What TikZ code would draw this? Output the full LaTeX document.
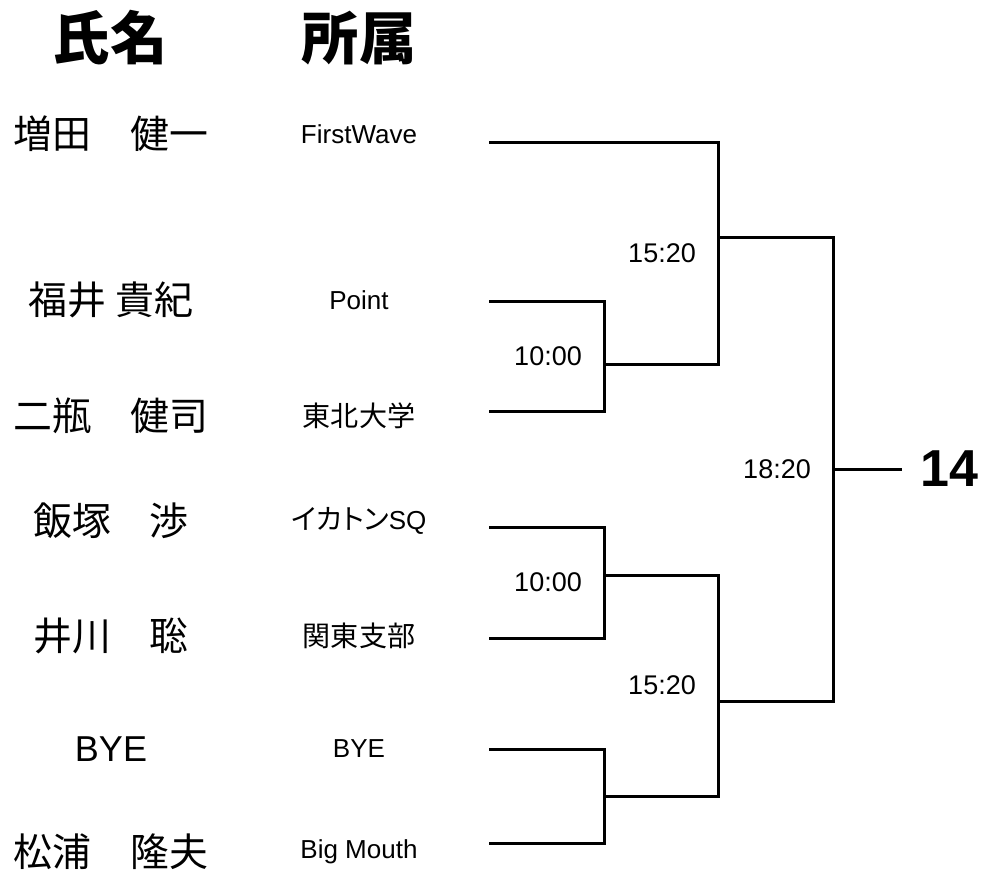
\documentclass[tikz,border=0pt]{standalone}
\usepackage{fontspec}
\setmainfont{Liberation Sans}
\newfontfamily\jp{Noto Sans CJK JP}[Scale=1.08]
\newfontfamily\jpp{Noto Sans CJK JP}[Scale=1.08,RawFeature=+palt]

\begin{document}
\begin{tikzpicture}[x=1pt,y=-1pt,
    line/.style={line width=3pt},
    player/.style={font=\fontsize{36}{40}\selectfont, inner sep=0pt},
    club/.style={font=\fontsize{26}{28}\selectfont, inner sep=0pt},
    time/.style={font=\fontsize{27}{30}\selectfont, anchor=east, inner sep=0pt},
    head/.style={font=\jp\bfseries\fontsize{53}{56}\selectfont, inner sep=0pt}]
    \useasboundingbox (0,0) rectangle (985,878);
    % Headings
    \node[head] (hname) at (110,38) {氏名};
    \node[head] (hclub) at (359,38) {所属};
    % Entries: no. / name / club / text row / line row
    \foreach \i/\nm/\cl/\ty/\ly in {1/{\jp 増田　健一}/FirstWave/134/142,
                                  2/{\jp 福井 貴紀}/Point/300/301,
                                  3/{\jp 二瓶　健司}/{\jp 東北大学}/416/411,
                                  4/{\jp 飯塚　渉}/{{\jpp イカトン}SQ}/521/527,
                                  5/{\jp 井川　聡}/{\jp 関東支部}/636/638,
                                  6/BYE/BYE/749/749,
                                  7/{\jp 松浦　隆夫}/Big Mouth/852/843} {
      \node[player] (n\i) at (111,\ty) {\nm};
      \node[club] (c\i) at (359,\ty) {\cl};
      \coordinate (e\i) at (489,\ly); % start of bracket line
    }
    % Junctions
    \coordinate (m1) at (604,364);
    \coordinate (m2) at (604,575);
    \coordinate (m3) at (604,796);
    \coordinate (q1) at (718,237);
    \coordinate (q2) at (718,701);
    \coordinate (f) at (833,469);
    \coordinate (w) at (902,469);
    % First round
    \draw[line] (e2) -| (m1) |- (e3);
    \draw[line] (e4) -| (m2) |- (e5);
    \draw[line] (e6) -| (m3) |- (e7);
    % Second round
    \draw[line] (e1) -| (q1) |- (m1);
    \draw[line] (m2) -| (q2) |- (m3);
    % Final
    \draw[line] (q1) -| (f) |- (q2);
    \draw[line] (f) -- (w);
    % Start times
    \node[time] (t1) at (582,356) {10:00};
    \node[time] (t2) at (582,582) {10:00};
    \node[time] (t3) at (696,253) {15:20};
    \node[time] (t4) at (696,685) {15:20};
    \node[time] (t5) at (811,469) {18:20};
    % Winner
    \node[font=\bfseries\fontsize{52}{54}\selectfont, anchor=east, inner sep=0pt] (win) at (979,469) {14};
\end{tikzpicture}
\end{document}
